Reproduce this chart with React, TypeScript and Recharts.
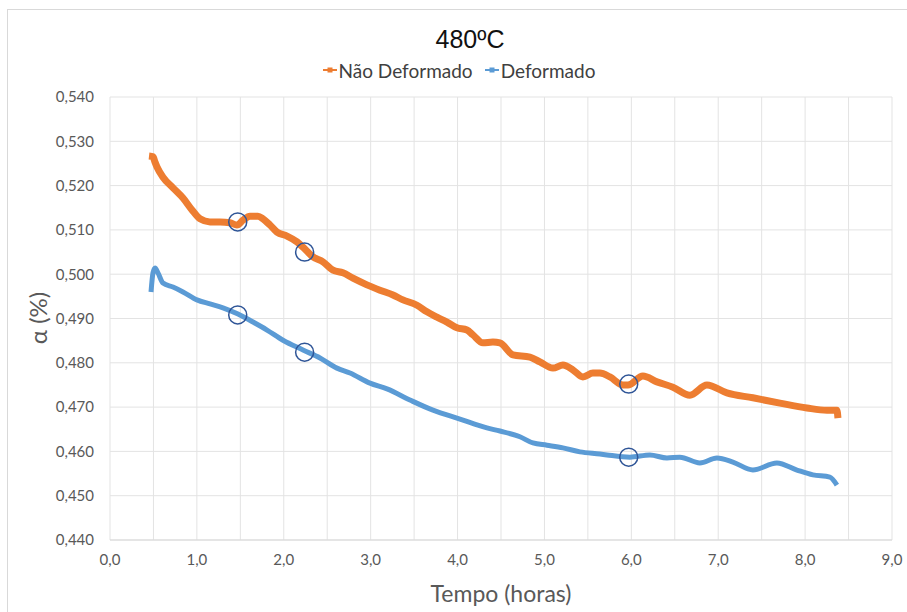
import React from 'react';
import { LineChart, Line, XAxis, YAxis, CartesianGrid, ReferenceDot } from 'recharts';

// tempo (h) e fração α para a amostra não deformada
const naoDefTempo = [0.449, 0.495, 0.518, 0.541, 0.61, 0.725, 0.84, 0.944, 1.036, 1.151, 1.266, 1.381, 1.461, 1.531, 1.611, 1.703, 1.761, 1.841, 1.922, 2.037, 2.152, 2.221, 2.336, 2.451, 2.566, 2.681, 2.796, 2.957, 3.107, 3.257, 3.372, 3.533, 3.648, 3.763, 3.878, 3.993, 4.108, 4.177, 4.292, 4.407, 4.488, 4.637, 4.833, 4.948, 5.098, 5.213, 5.328, 5.443, 5.558, 5.639, 5.754, 5.903, 5.961, 6.133, 6.295, 6.479, 6.674, 6.87, 7.1, 7.399, 7.71, 8.021, 8.251, 8.366, 8.378];
const naoDefAlfa = [0.5267, 0.5265, 0.5253, 0.5242, 0.5219, 0.5195, 0.5172, 0.5145, 0.5125, 0.5118, 0.5118, 0.5116, 0.5111, 0.5122, 0.5131, 0.5131, 0.5125, 0.5111, 0.5095, 0.5086, 0.5073, 0.5061, 0.5039, 0.5028, 0.5009, 0.5003, 0.4991, 0.4976, 0.4964, 0.4953, 0.4942, 0.493, 0.4915, 0.4903, 0.4892, 0.4879, 0.4874, 0.4863, 0.4845, 0.4847, 0.4845, 0.4818, 0.4813, 0.4802, 0.4788, 0.4795, 0.4784, 0.4768, 0.4777, 0.4777, 0.4768, 0.475, 0.475, 0.477, 0.4757, 0.4745, 0.4727, 0.475, 0.4732, 0.4721, 0.4709, 0.4698, 0.4693, 0.4693, 0.4675];

// tempo (h) e fração α para a amostra deformada
const defTempo = [0.472, 0.495, 0.518, 0.552, 0.61, 0.725, 0.84, 1.001, 1.151, 1.3, 1.473, 1.646, 1.807, 1.991, 2.221, 2.417, 2.612, 2.762, 2.992, 3.188, 3.452, 3.717, 4.028, 4.338, 4.488, 4.718, 4.868, 5.029, 5.213, 5.409, 5.639, 5.719, 5.984, 6.214, 6.41, 6.559, 6.789, 6.985, 7.169, 7.399, 7.675, 7.906, 8.09, 8.285, 8.366];
const defAlfa = [0.496, 0.5003, 0.5014, 0.5003, 0.498, 0.4971, 0.496, 0.4942, 0.4933, 0.4924, 0.491, 0.4892, 0.4874, 0.4851, 0.4829, 0.4811, 0.4788, 0.4777, 0.4754, 0.4741, 0.4716, 0.4693, 0.4673, 0.4653, 0.4646, 0.4633, 0.4619, 0.4614, 0.4608, 0.4599, 0.4594, 0.4592, 0.4587, 0.4592, 0.4585, 0.4587, 0.4574, 0.4585, 0.4576, 0.4558, 0.4574, 0.4558, 0.4547, 0.4542, 0.4524];

// pontos destacados com círculos
const marcaTempo = [1.47, 2.24, 5.97];
const marcaNaoDef = [0.5118, 0.505, 0.4752];
const marcaDef = [0.4908, 0.4824, 0.4587];

const xTicks = [0, 0.5, 1, 1.5, 2, 2.5, 3, 3.5, 4, 4.5, 5, 5.5, 6, 6.5, 7, 7.5, 8, 8.5, 9];
const yTicks = [0.44, 0.45, 0.46, 0.47, 0.48, 0.49, 0.5, 0.51, 0.52, 0.53, 0.54];

const LARANJA = '#ED7D31';
const AZUL = '#5B9BD5';
const CIRCULO = '#2F5597';
const fonte = 'Lato, "Open Sans", sans-serif';

const serieNaoDef = naoDefTempo.map((t, i) => ({ t, a: naoDefAlfa[i] }));
const serieDef = defTempo.map((t, i) => ({ t, a: defAlfa[i] }));

const fmtX = (v: number) => (Number.isInteger(v) ? v.toFixed(1).replace('.', ',') : '');
const fmtY = (v: number) => v.toFixed(3).replace('.', ',');

const LegendaItem = ({ cor, texto }: any) => (
  <span style={{ display: 'inline-flex', alignItems: 'center', marginRight: 12 }}>
    <svg width={14} height={10} style={{ marginRight: 2 }}>
      <line x1={0} y1={5} x2={14} y2={5} stroke={cor} strokeWidth={2} />
      <rect x={4.5} y={2.5} width={5} height={5} fill={cor} />
    </svg>
    {texto}
  </span>
);

export default function App() {
  return (
    <div style={{ position: 'fixed', left: 0, top: 0, width: 907, height: 612, background: '#fff', overflow: 'hidden' }}>
      <div style={{ position: 'absolute', left: 7, top: 9, width: 940, height: 640, border: '1px solid #d9d9d9' }} />
      <div style={{ position: 'absolute', left: 0, width: 940, top: 25, textAlign: 'center', fontFamily: '"Liberation Sans Narrow", "Liberation Sans", sans-serif', fontSize: 25, color: '#111' }}>
        480ºC
      </div>
      <div style={{ position: 'absolute', left: 0, width: 930, top: 56, textAlign: 'center', fontFamily: fonte, fontSize: 19, color: '#404040' }}>
        <LegendaItem cor={LARANJA} texto="Não Deformado" />
        <LegendaItem cor={AZUL} texto="Deformado" />
      </div>
      <div style={{ position: 'absolute', left: 0, top: 0 }}>
        <LineChart width={907} height={612} margin={{ top: 97, right: 15, left: 50, bottom: 42 }}>
          <CartesianGrid stroke="#e3e3e3" strokeWidth={1} horizontalValues={yTicks} verticalValues={xTicks} />
          <XAxis
            type="number"
            dataKey="t"
            domain={[0, 9]}
            ticks={xTicks}
            interval={0}
            tickFormatter={fmtX}
            tickLine={false}
            axisLine={{ stroke: '#d9d9d9' }}
            tick={{ fill: '#595959', fontSize: 15, fontFamily: fonte }}
            tickMargin={8}
            height={30}
            allowDataOverflow
          />
          <YAxis
            type="number"
            dataKey="a"
            domain={[0.44, 0.54]}
            ticks={yTicks}
            interval={0}
            tickFormatter={fmtY}
            tickLine={false}
            axisLine={false}
            tick={{ fill: '#595959', fontSize: 15, fontFamily: fonte }}
            tickMargin={10}
            width={60}
            allowDataOverflow
          />
          <Line data={serieNaoDef} dataKey="a" name="Não Deformado" type="monotone" stroke={LARANJA} strokeWidth={7} dot={false} isAnimationActive={false} />
          <Line data={serieDef} dataKey="a" name="Deformado" type="monotone" stroke={AZUL} strokeWidth={5} dot={false} isAnimationActive={false} />
          {marcaTempo.map((t, i) => (
            <ReferenceDot key={'n' + i} x={t} y={marcaNaoDef[i]} r={9} fill="none" stroke={CIRCULO} strokeWidth={1.5} ifOverflow="visible" />
          ))}
          {marcaTempo.map((t, i) => (
            <ReferenceDot key={'d' + i} x={t} y={marcaDef[i]} r={9} fill="none" stroke={CIRCULO} strokeWidth={1.5} ifOverflow="visible" />
          ))}
        </LineChart>
      </div>
      <div style={{ position: 'absolute', left: 37, top: 318, transform: 'translate(-50%, -50%) rotate(-90deg)', fontFamily: fonte, fontSize: 24, color: '#595959', whiteSpace: 'nowrap' }}>
        α (%)
      </div>
      <div style={{ position: 'absolute', left: 501, top: 593, transform: 'translate(-50%, -50%)', fontFamily: fonte, fontSize: 23, color: '#595959', whiteSpace: 'nowrap' }}>
        Tempo (horas)
      </div>
    </div>
  );
}
